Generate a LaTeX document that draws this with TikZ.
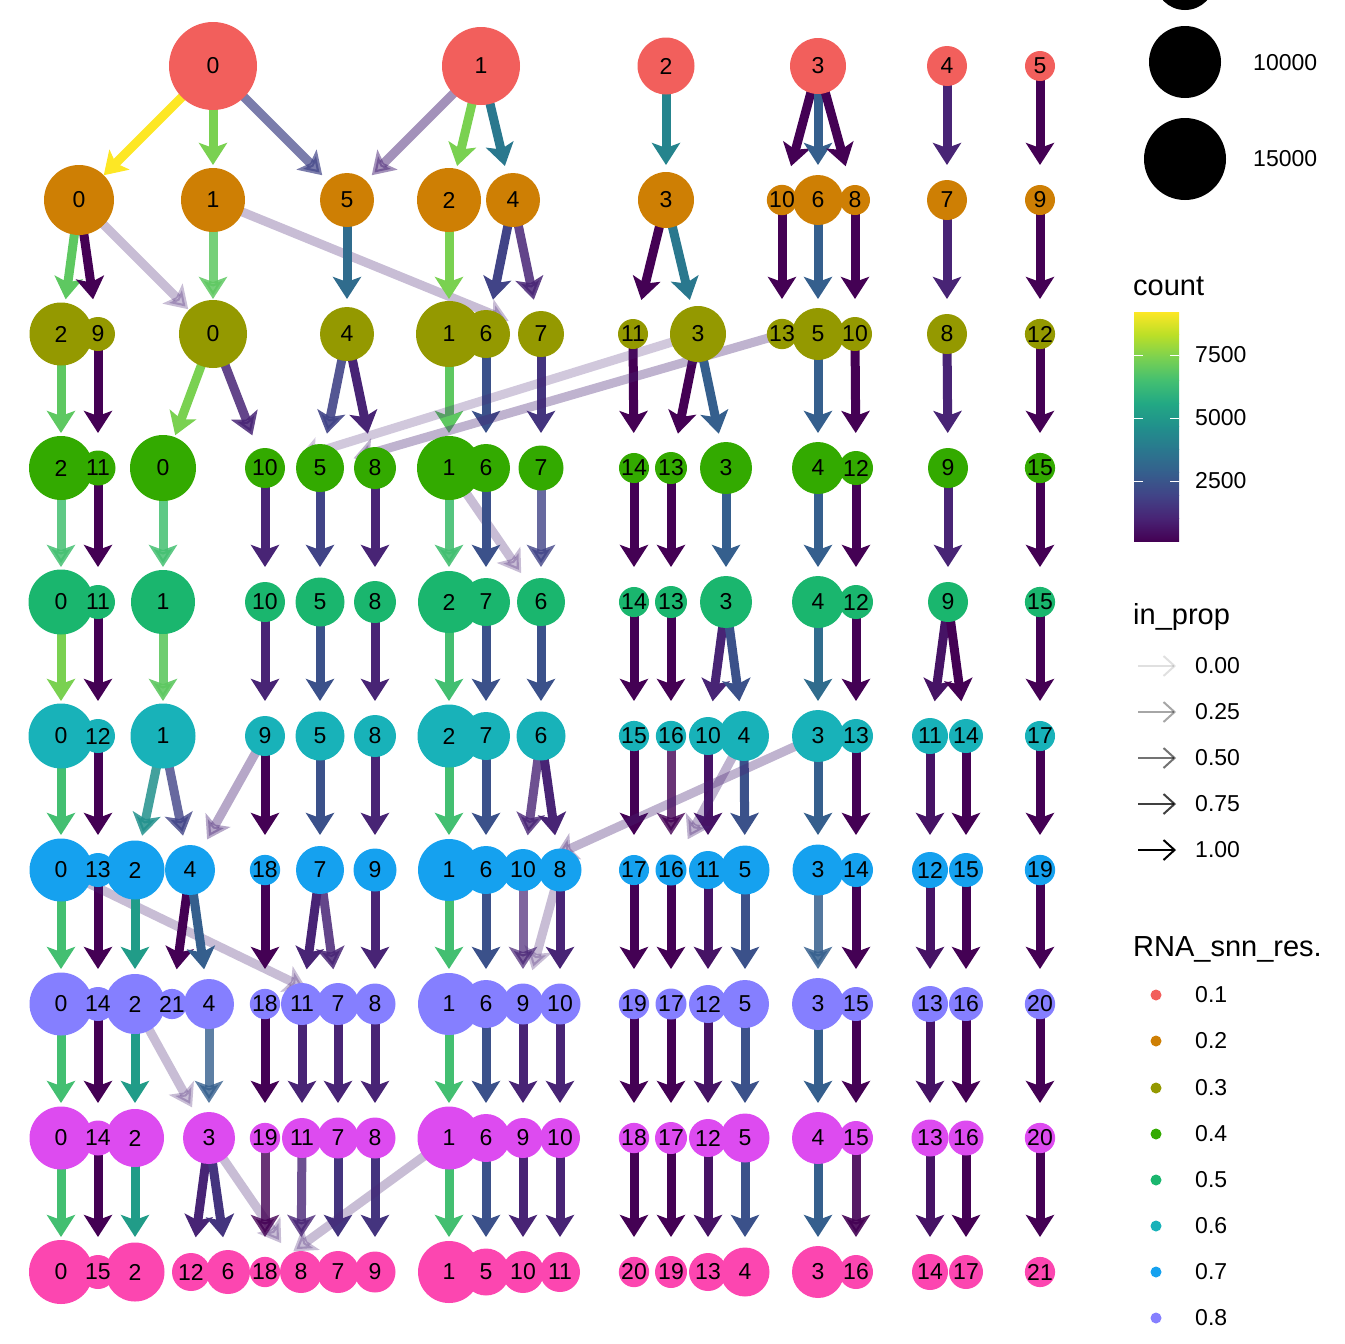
\documentclass[tikz,border=0pt]{standalone}
\usepackage{fontspec}
\setmainfont{Liberation Sans}
\usetikzlibrary{arrows.meta}
\pgfdeclarelayer{edges}
\pgfsetlayers{edges,main}
\definecolor{res1}{RGB}{242,95,92}
\definecolor{res2}{RGB}{206,127,4}
\definecolor{res3}{RGB}{148,153,0}
\definecolor{res4}{RGB}{51,170,0}
\definecolor{res5}{RGB}{26,182,110}
\definecolor{res6}{RGB}{24,178,185}
\definecolor{res7}{RGB}{21,161,239}
\definecolor{res8}{RGB}{133,127,255}
\definecolor{res9}{RGB}{221,75,240}
\definecolor{res10}{RGB}{252,70,176}
\definecolor{v0}{HTML}{440154}
\definecolor{v1}{HTML}{482475}
\definecolor{v2}{HTML}{414487}
\definecolor{v3}{HTML}{355F8D}
\definecolor{v4}{HTML}{2A788E}
\definecolor{v5}{HTML}{21908C}
\definecolor{v6}{HTML}{22A884}
\definecolor{v7}{HTML}{43BF71}
\definecolor{v8}{HTML}{7AD151}
\definecolor{v9}{HTML}{BBDF27}
\definecolor{v10}{HTML}{FDE725}
\begin{document}
\begin{tikzpicture}[x=1pt,y=-1pt,
    cl/.style={circle,inner sep=0pt,font=\fontsize{23}{23}\selectfont},
    flow/.style={line width=9pt,-{Stealth[length=22pt,width=28pt,inset=5pt]},shorten >=35pt},
    key/.style={line width=2pt,-{Straight Barb[length=11pt,width=20pt]}},
    lab/.style={anchor=west,inner sep=0pt,font=\fontsize{23}{23}\selectfont},
    ttl/.style={anchor=base west,inner sep=0pt,font=\fontsize{29}{29}\selectfont}]
\useasboundingbox (0,0) rectangle (1344,1344);
\clip (0,0) rectangle (1344,1344);
% clusters, one row per resolution
\foreach \c/\x/\r in {0/213/44,1/481/39,2/666/28.5,3/818/28,4/947/20,5/1040/15}
  \node[cl,fill=res1,minimum size=2*\r] (r1c\c) at (\x,66) {\c};
\foreach \c/\x/\r in {0/79/35,1/213/32,2/449/32,3/666/28,4/513/27,5/347/27,6/818/25,7/947/20,8/855/15,9/1040/15,10/782/13}
  \node[cl,fill=res2,minimum size=2*\r] (r2c\c) at (\x,200) {\c};
\foreach \c/\x/\r in {0/213/34,1/449/33,2/61/31.5,3/698/28,4/347/27,5/818/26,6/486/24,7/541/23,8/947/20,9/98/17,10/855/17,11/633/15,12/1040/15,13/782/13.5}
  \node[cl,fill=res3,minimum size=2*\r] (r3c\c) at (\x,334) {\c};
\foreach \c/\x/\r in {0/163/33,1/449/32,2/61/32,3/726/26,4/818/26,5/320/24,6/486/24,7/541/22.5,8/375/21,9/948/20,10/265/20,11/98/17.5,12/856/17,13/671/16,14/634/15,15/1040/15}
  \node[cl,fill=res4,minimum size=2*\r] (r4c\c) at (\x,468) {\c};
\foreach \c/\x/\r in {0/61/32.5,1/163/32,2/449/31,3/726/26,4/818/26,5/320/24.5,6/541/24,7/486/24,8/375/21,9/948/20,10/265/20,11/98/17,12/856/17,13/671/16,14/634/15,15/1040/15}
  \node[cl,fill=res5,minimum size=2*\r] (r5c\c) at (\x,602) {\c};
\foreach \c/\x/\r in {0/61/32.5,1/163/32.5,2/449/31.5,3/818/26,4/744/25,5/320/24.5,6/541/24.5,7/486/24,8/375/21,9/265/20,10/708/19,11/930/18,12/98/17,13/856/17,14/966/17,15/634/15,16/671/15,17/1040/15}
  \node[cl,fill=res6,minimum size=2*\r] (r6c\c) at (\x,736) {\c};
\foreach \c/\x/\r in {0/61/31.5,1/449/31,2/135/29.5,3/818/25.5,4/190/25,5/745/24.5,6/486/24,7/320/24,8/560/21.5,9/375/21.5,10/523/21,11/708/19,12/930/18,13/98/17,14/856/17,15/966/17,16/671/15.5,17/634/15,18/265/14,19/1040/15}
  \node[cl,fill=res7,minimum size=2*\r] (r7c\c) at (\x,870) {\c};
\foreach \c/\x/\r in {0/61/31.5,1/449/31,2/135/30,3/818/26,4/209/25,5/745/24,6/486/24,7/338/21,8/375/20.5,9/523/20.5,10/560/20.5,11/302/21,12/708/19,13/930/18,14/98/17,15/856/17,16/966/17,17/671/15.5,18/265/15,19/634/15,20/1040/14.5,21/172/14}
  \node[cl,fill=res8,minimum size=2*\r] (r8c\c) at (\x,1004) {\c};
\foreach \c/\x/\r in {0/61/31.5,1/449/31.5,2/135/29,3/209/26,4/818/26,5/745/24.5,6/486/24,7/338/20.5,8/375/20.5,9/523/20,10/560/20,11/302/20,12/708/19,13/930/18.5,14/98/17.5,15/856/17,16/966/17.5,17/671/16,18/634/15,19/265/14,20/1040/14}
  \node[cl,fill=res9,minimum size=2*\r] (r9c\c) at (\x,1138) {\c};
\foreach \c/\x/\r in {0/61/32,1/449/31,2/135/29.5,3/818/26,4/745/24.5,5/486/23.5,6/228/22,7/338/21,8/301/21,9/375/20.5,10/523/21,11/560/20,12/191/19,13/708/19,14/930/18,15/98/17,16/856/17,17/966/17,18/265/15,19/671/16,20/634/15,21/1040/15}
  \node[cl,fill=res10,minimum size=2*\r] (r10c\c) at (\x,1272) {\c};
% transitions between resolutions
\begin{pgfonlayer}{edges}
\foreach \p/\q/\col/\op in {
  r1c0/r2c0/v10/1, r1c0/r2c1/v8/1, r1c0/r2c5/v2/.7, r1c1/r2c5/v1/.5, r1c1/r2c2/v8/1,
  r1c1/r2c4/v4/1, r1c2/r2c3/v4!50!v5/1, r1c3/r2c10/v0/1, r1c3/r2c6/v3/1, r1c3/r2c8/v0/1,
  r1c4/r2c7/v1/1, r1c5/r2c9/v0/1,
  r2c0/r3c2/v7!50!v8/1, r2c0/r3c9/v0/1, r2c0/r3c0/v1/.3, r2c1/r3c0/v7!50!v8/.85,
  r2c1/r3c7/v1/.3, r2c5/r3c4/v3!50!v4/1, r2c2/r3c1/v8/1, r2c4/r3c6/v2/1, r2c4/r3c7/v1/.85,
  r2c3/r3c11/v0/1, r2c3/r3c3/v4/1, r2c10/r3c13/v0/1, r2c6/r3c5/v3/1, r2c8/r3c10/v0/1,
  r2c7/r3c8/v1/1, r2c9/r3c12/v0/1,
  r3c2/r4c2/v7!50!v8/1, r3c9/r4c11/v0/1, r3c0/r4c0/v8/1, r3c0/r4c10/v1/.85, r3c4/r4c5/v2/.9,
  r3c4/r4c8/v1/1, r3c1/r4c1/v7!50!v8/1, r3c6/r4c6/v2!50!v3/1, r3c7/r4c7/v1!50!v2/1,
  r3c11/r4c14/v0/1, r3c3/r4c13/v0/1, r3c3/r4c3/v3/1, r3c3/r4c10/v1/.25, r3c13/r4c5/v1/.35,
  r3c5/r4c4/v3/1, r3c10/r4c12/v0/1, r3c8/r4c9/v1/1, r3c12/r4c15/v0/1,
  r4c2/r5c0/v7/.85, r4c11/r5c11/v0/1, r4c0/r5c1/v7/.85, r4c10/r5c10/v1/1, r4c5/r5c5/v2/1,
  r4c8/r5c8/v1/1, r4c1/r5c2/v7/.9, r4c1/r5c6/v1/.3, r4c6/r5c7/v2!50!v3/1, r4c7/r5c6/v2/.8,
  r4c14/r5c14/v0/1, r4c13/r5c13/v0/1, r4c3/r5c3/v3/1, r4c4/r5c4/v3/1, r4c12/r5c12/v0/1,
  r4c9/r5c9/v1/1, r4c15/r5c15/v0/1,
  r5c0/r6c0/v8/1, r5c11/r6c12/v0/1, r5c1/r6c1/v7!50!v8/.9, r5c10/r6c9/v1/1,
  r5c5/r6c5/v2!50!v3/1, r5c8/r6c8/v1/1, r5c2/r6c2/v7/1, r5c7/r6c7/v2!50!v3/1,
  r5c6/r6c6/v2!50!v3/1, r5c14/r6c15/v0/1, r5c13/r6c16/v0/1, r5c3/r6c10/v1/1,
  r5c3/r6c4/v2!50!v3/1, r5c4/r6c3/v3!50!v4/1, r5c12/r6c13/v0/1, r5c9/r6c11/v0!50!v1/1,
  r5c9/r6c14/v0/1, r5c15/r6c17/v0/1,
  r6c0/r7c0/v7/1, r6c12/r7c13/v0/1, r6c1/r7c2/v5/.85, r6c1/r7c4/v2/.8, r6c9/r7c4/v1/.4,
  r6c9/r7c18/v0/1, r6c5/r7c7/v2!50!v3/1, r6c8/r7c9/v1/1, r6c2/r7c1/v7/1,
  r6c7/r7c6/v2!50!v3/1, r6c6/r7c10/v1/.8, r6c6/r7c8/v1/1, r6c15/r7c17/v0/1,
  r6c16/r7c16/v0/.8, r6c10/r7c11/v0!50!v1/1, r6c4/r7c5/v2!50!v3/1, r6c4/r7c16/v1/.35,
  r6c3/r7c3/v3/1, r6c3/r7c10/v1/.35, r6c13/r7c14/v0/1, r6c11/r7c12/v0!50!v1/1,
  r6c14/r7c15/v0/1, r6c17/r7c19/v0/1,
  r7c0/r8c0/v7/1, r7c13/r8c14/v0/1, r7c0/r8c7/v1/.3, r7c2/r8c2/v5!50!v6/1, r7c4/r8c21/v0/1,
  r7c4/r8c4/v3/1, r7c18/r8c18/v0/1, r7c7/r8c11/v1/1, r7c7/r8c7/v1/.85, r7c9/r8c8/v1/1,
  r7c1/r8c1/v7/1, r7c6/r8c6/v2!50!v3/1, r7c10/r8c9/v1/.7, r7c8/r8c10/v1/1, r7c8/r8c9/v1/.3,
  r7c17/r8c19/v0/1, r7c16/r8c17/v0/1, r7c11/r8c12/v0!50!v1/1, r7c5/r8c5/v2!50!v3/1,
  r7c3/r8c3/v3/.85, r7c14/r8c15/v0/1, r7c12/r8c13/v0!50!v1/1, r7c15/r8c16/v0/1,
  r7c19/r8c20/v0/1,
  r8c0/r9c0/v7/1, r8c14/r9c14/v0/1, r8c2/r9c2/v5!50!v6/1, r8c2/r9c3/v1/.3, r8c4/r9c3/v3/.8,
  r8c18/r9c19/v0/1, r8c11/r9c11/v1/1, r8c7/r9c7/v1/1, r8c8/r9c8/v1/1, r8c1/r9c1/v7/1,
  r8c6/r9c6/v2!50!v3/1, r8c9/r9c9/v1/1, r8c10/r9c10/v1/1, r8c19/r9c18/v0/1,
  r8c17/r9c17/v0/1, r8c12/r9c12/v0!50!v1/1, r8c5/r9c5/v2!50!v3/1, r8c3/r9c4/v3/1,
  r8c15/r9c15/v0/1, r8c13/r9c13/v0!50!v1/1, r8c16/r9c16/v0/1, r8c20/r9c20/v0/1,
  r9c0/r10c0/v7/1, r9c14/r10c15/v0/1, r9c2/r10c2/v5!50!v6/1, r9c3/r10c12/v1/1,
  r9c3/r10c6/v1!50!v2/1, r9c3/r10c8/v1/.3, r9c19/r10c18/v0/.8, r9c11/r10c8/v1/.8,
  r9c7/r10c7/v1!50!v2/1, r9c8/r10c9/v1!50!v2/1, r9c1/r10c18/v1/.3, r9c1/r10c1/v7/1,
  r9c6/r10c5/v2!50!v3/1, r9c9/r10c10/v1/1, r9c10/r10c11/v1/1, r9c18/r10c20/v0/1,
  r9c17/r10c19/v0/1, r9c12/r10c13/v0!50!v1/1, r9c5/r10c4/v2!50!v3/1, r9c4/r10c3/v3/1,
  r9c15/r10c16/v0/.9, r9c13/r10c14/v0!50!v1/1, r9c16/r10c17/v0/1, r9c20/r10c21/v0/1}
  \draw[flow,draw=\col,opacity=\op] (\p.center) -- (\q.center);
\end{pgfonlayer}
% legend: size
\fill (1185,-20) circle (30);
\fill (1185,62) circle (36);
\fill (1185,159) circle (41);
\node[lab] (s10) at (1253,63) {10000};
\node[lab] (s15) at (1253,159) {15000};
% legend: count
\node[ttl] (tcount) at (1133,295) {count};
\foreach \i [evaluate=\i as \j using int(\i+1)] in {0,...,9}
  \shade[bottom color=v\i,top color=v\j] (1134,{541-22.9*\i}) rectangle (1179,{541-22.9*(\i+1)});
\foreach \y/\t in {355/7500,418/5000,481/2500}{
  \draw[white,line width=1pt] (1134,\y) -- (1143,\y) (1170,\y) -- (1179,\y);
  \node[lab] (c\t) at (1195,\y) {\t};
}
% legend: in_prop
\node[ttl] (tprop) at (1133,624) {in\_prop};
\foreach \y/\t/\o in {666/0.00/.12,712/0.25/.35,758/0.50/.55,804/0.75/.75,850/1.00/1}{
  \draw[key,opacity=\o] (1138,\y) -- (1176,\y);
  \node[lab] (p\t) at (1195,\y) {\t};
}
% legend: resolution
\node[ttl] (tres) at (1133,956) {RNA\_snn\_res.};
\foreach \k/\y in {1/995,2/1041,3/1088,4/1134,5/1180,6/1226,7/1272,8/1318}{
  \fill[res\k] (1156,\y) circle (5.5);
  \node[lab] (k\k) at (1195,\y) {0.\k};
}
\end{tikzpicture}
\end{document}
